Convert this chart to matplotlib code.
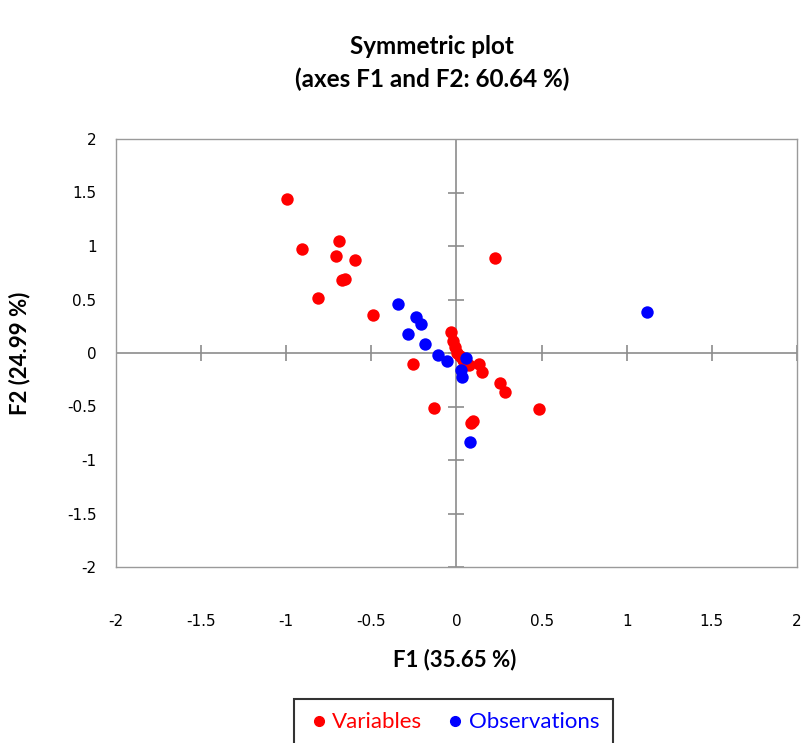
import matplotlib
matplotlib.use("Agg")
import matplotlib.pyplot as plt
from matplotlib.lines import Line2D

# Data
var_x = [-0.997, -0.907, -0.690, -0.706, -0.598, -0.674, -0.655, -0.815, -0.490, 0.228,
         -0.257, -0.134, 0.087, 0.095, 0.487, 0.256, 0.283, 0.134, 0.150, -0.030,
         -0.022, -0.011, 0.001, 0.040, 0.075, 0.020]
var_y = [1.436, 0.972, 1.047, 0.903, 0.866, 0.679, 0.695, 0.514, 0.358, 0.891,
         -0.103, -0.511, -0.654, -0.640, -0.520, -0.283, -0.368, -0.100, -0.174, 0.193,
         0.115, 0.059, -0.003, -0.065, -0.115, -0.030]
obs_x = [-0.342, -0.236, -0.209, -0.287, -0.183, -0.107, -0.054, 0.054, 0.026, 0.034, 0.079, 1.119]
obs_y = [0.455, 0.336, 0.271, 0.174, 0.081, -0.016, -0.078, -0.050, -0.159, -0.221, -0.828, 0.383]
ticks = [-2, -1.5, -1, -0.5, 0, 0.5, 1, 1.5, 2]
tick_labels = ["-2", "-1.5", "-1", "-0.5", "0", "0.5", "1", "1.5", "2"]

font = ["Lato", "DejaVu Sans"]

fig = plt.figure(figsize=(8.04, 7.43), dpi=100)
ax = fig.add_axes([116/804, 1-567/743, (797-116)/804, (567-139)/743])

ax.set_xlim(-2, 2)
ax.set_ylim(-2, 2)
for s in ax.spines.values():
    s.set_color("#9a9a9a")
    s.set_linewidth(1.0)

ax.axhline(0, color="#8c8c8c", lw=1.2, zorder=1)
ax.axvline(0, color="#8c8c8c", lw=1.2, zorder=1)
ax.plot(ticks, [0]*len(ticks), linestyle="none", marker="|", markersize=12,
        markeredgewidth=1.2, color="#8c8c8c", zorder=1)
ax.plot([0]*len(ticks), ticks, linestyle="none", marker="_", markersize=12,
        markeredgewidth=1.2, color="#8c8c8c", zorder=1)

ax.scatter(var_x, var_y, s=80, color="#ff0000", zorder=3, linewidths=0)
ax.scatter(obs_x, obs_y, s=80, color="#0000ff", zorder=4, linewidths=0)

ax.set_xticks(ticks)
ax.set_xticklabels(tick_labels)
ax.set_yticks(ticks)
ax.set_yticklabels(tick_labels)
ax.tick_params(axis="both", length=0, labelsize=11, labelcolor="black")
ax.tick_params(axis="x", pad=34)
ax.tick_params(axis="y", pad=14)

fig.text(432/804, 1-47/743, "Symmetric plot", ha="center", va="center",
         fontsize=17.5, fontweight="bold", family=font)
fig.text(432/804, 1-79/743, "(axes F1 and F2: 60.64 %)", ha="center", va="center",
         fontsize=17.5, fontweight="bold", family=font)
fig.text(455/804, 1-660/743, "F1 (35.65 %)", ha="center", va="center",
         fontsize=16, fontweight="bold", family=font)
fig.text(20/804, 1-353/743, "F2 (24.99 %)", ha="center", va="center", rotation=90,
         fontsize=16, fontweight="bold", family=font)

handles = [Line2D([], [], linestyle="none", marker="o", markersize=7, color="#ff0000"),
           Line2D([], [], linestyle="none", marker="o", markersize=7, color="#0000ff")]
leg = fig.legend(handles, ["Variables", "Observations"], loc="upper left",
                 bbox_to_anchor=(283/804, 1-688/743), ncol=2, frameon=True,
                 fancybox=False, edgecolor="black", handletextpad=0.1,
                 columnspacing=1.0, borderpad=0.6, handlelength=1.0,
                 prop={"family": font, "size": 16})
leg.get_frame().set_linewidth(1.5)
leg.get_texts()[0].set_color("#ff0000")
leg.get_texts()[1].set_color("#0000ff")

fig.savefig("out.png", dpi=100)
